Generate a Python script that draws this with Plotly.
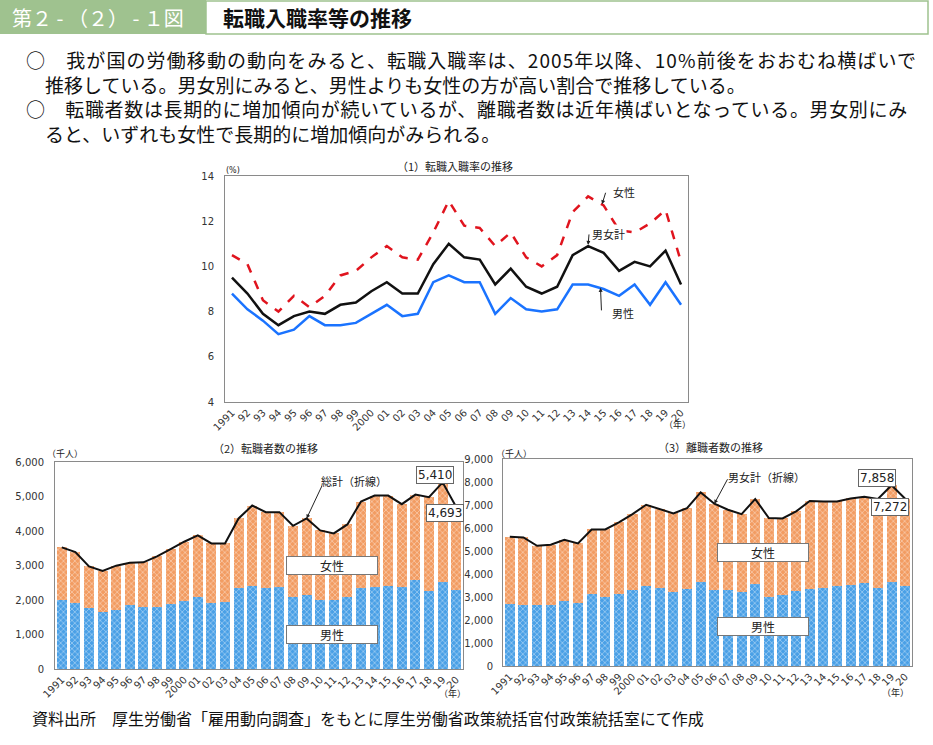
import plotly.graph_objects as go

W, H = 933, 745

years = ["1991", "92", "93", "94", "95", "96", "97", "98", "99", "2000",
         "01", "02", "03", "04", "05", "06", "07", "08", "09", "10",
         "11", "12", "13", "14", "15", "16", "17", "18", "19", "20"]

# (1) 転職入職率 (%)
rate_total = [9.5, 8.8, 7.9, 7.4, 7.8, 8.0, 7.9, 8.3, 8.4, 8.9, 9.3, 8.8, 8.8, 10.1, 11.0,
              10.4, 10.3, 9.2, 9.9, 9.1, 8.8, 9.1, 10.5, 10.9, 10.6, 9.8, 10.2, 10.0, 10.7, 9.2]
rate_male = [8.8, 8.1, 7.6, 7.0, 7.2, 7.8, 7.4, 7.4, 7.5, 7.9, 8.3, 7.8, 7.9, 9.3, 9.6,
             9.3, 9.3, 7.9, 8.6, 8.1, 8.0, 8.1, 9.2, 9.2, 9.0, 8.7, 9.2, 8.3, 9.3, 8.3]
rate_female = [10.5, 10.1, 8.5, 8.0, 8.7, 8.2, 8.7, 9.6, 9.8, 10.4, 10.9, 10.4, 10.3, 11.5, 12.9,
               11.8, 11.7, 10.9, 11.5, 10.4, 10.0, 10.5, 12.4, 13.1, 12.7, 11.6, 11.5, 11.9, 12.5, 10.2]

# (2) 転職者数 (千人)
tr_total = [3525, 3390, 2976, 2842, 2995, 3082, 3092, 3265, 3477, 3689, 3872, 3641, 3641, 4363, 4738,
            4546, 4546, 4151, 4363, 4016, 3930, 4190, 4854, 5027, 5027, 4777, 5056, 4980, 5410, 4693]
tr_male = [2013, 1926, 1763, 1638, 1724, 1869, 1811, 1811, 1898, 1984, 2100, 1926, 1955, 2341, 2418,
           2350, 2370, 2090, 2148, 2004, 2013, 2090, 2350, 2389, 2418, 2370, 2572, 2273, 2533, 2293]
tr_female = [1512, 1464, 1213, 1204, 1271, 1213, 1281, 1454, 1579, 1705, 1772, 1715, 1686, 2022, 2320,
             2196, 2176, 2061, 2215, 2012, 1917, 2100, 2504, 2638, 2609, 2407, 2484, 2707, 2877, 2400]

# (3) 離職者数 (千人)
sep_total = [5617, 5588, 5226, 5269, 5487, 5327, 5937, 5937, 6242, 6605, 7011, 6837, 6634, 6866, 7548,
             7054, 6793, 6605, 7258, 6430, 6416, 6721, 7171, 7157, 7157, 7287, 7359, 7265, 7858, 7272]
sep_male = [2713, 2670, 2641, 2641, 2815, 2757, 3120, 2989, 3120, 3324, 3484, 3382, 3237, 3338, 3672,
            3324, 3294, 3208, 3585, 2989, 3106, 3251, 3367, 3382, 3484, 3528, 3600, 3382, 3643, 3498]
sep_female = [2904, 2918, 2585, 2628, 2672, 2570, 2817, 2948, 3122, 3281, 3527, 3455, 3397, 3528, 3876,
              3730, 3499, 3397, 3673, 3441, 3310, 3470, 3804, 3775, 3673, 3759, 3759, 3883, 4215, 3774]

idx = list(range(len(years)))

JP = "Noto Sans CJK JP"
NUM = "DejaVu Sans"
GREEN = "#9fc28f"
ORANGE = "#f29c62"
BLUE = "#4aa0e6"


def px(x):
    return x / W


def py(y):
    return 1 - y / H


def pat():
    return dict(shape="x", fgcolor="white", fillmode="overlay", size=4, solidity=0.33)


fig = go.Figure()

# chart 1 lines
fig.add_trace(go.Scatter(x=idx, y=rate_female, mode="lines", xaxis="x", yaxis="y",
                         line=dict(color="#e0141e", width=2.5, dash="dash"), name="女性"))
fig.add_trace(go.Scatter(x=idx, y=rate_total, mode="lines", xaxis="x", yaxis="y",
                         line=dict(color="#111111", width=2.5), name="男女計"))
fig.add_trace(go.Scatter(x=idx, y=rate_male, mode="lines", xaxis="x", yaxis="y",
                         line=dict(color="#1a73ff", width=2.5), name="男性"))

# chart 2 bars + line
fig.add_trace(go.Bar(x=idx, y=tr_male, xaxis="x2", yaxis="y2", marker=dict(color=BLUE, pattern=pat(), line=dict(width=0))))
fig.add_trace(go.Bar(x=idx, y=tr_female, xaxis="x2", yaxis="y2", marker=dict(color=ORANGE, pattern=pat(), line=dict(width=0))))
fig.add_trace(go.Scatter(x=idx, y=tr_total, mode="lines", xaxis="x2", yaxis="y2",
                         line=dict(color="#111111", width=2)))

# chart 3 bars + line
fig.add_trace(go.Bar(x=idx, y=sep_male, xaxis="x3", yaxis="y3", marker=dict(color=BLUE, pattern=pat(), line=dict(width=0))))
fig.add_trace(go.Bar(x=idx, y=sep_female, xaxis="x3", yaxis="y3", marker=dict(color=ORANGE, pattern=pat(), line=dict(width=0))))
fig.add_trace(go.Scatter(x=idx, y=sep_total, mode="lines", xaxis="x3", yaxis="y3",
                         line=dict(color="#111111", width=2)))

axline = dict(showline=True, linecolor="#8a8a8a", linewidth=1, mirror=True, showgrid=False,
              zeroline=False, automargin=False)
xcommon = dict(tickmode="array", tickvals=idx, ticktext=years, tickangle=-45,
               tickfont=dict(family=NUM, size=10, color="#333"), ticks="", **axline)

fig.update_layout(
    width=W, height=H, margin=dict(l=0, r=0, t=0, b=0, autoexpand=False),
    paper_bgcolor="white", plot_bgcolor="white", showlegend=False,
    barmode="stack", bargap=0.26,
    xaxis=dict(domain=[px(225), px(688)], anchor="y", range=[-0.45, 29.45], **xcommon),
    yaxis=dict(domain=[py(402), py(176)], anchor="x", range=[4, 14], dtick=2,
               tickfont=dict(family=NUM, size=10, color="#333"), ticklabelstandoff=8, ticks="", **axline),
    xaxis2=dict(domain=[px(55), px(463)], anchor="y2", range=[-0.5, 29.5], **xcommon),
    yaxis2=dict(domain=[py(669), py(462)], anchor="x2", range=[0, 6000], dtick=1000, tickformat=",",
                tickfont=dict(family=NUM, size=10, color="#333"), ticklabelstandoff=8, ticks="", **axline),
    xaxis3=dict(domain=[px(503), px(912)], anchor="y3", range=[-0.5, 29.5], **xcommon),
    yaxis3=dict(domain=[py(666), py(459)], anchor="x3", range=[0, 9000], dtick=1000, tickformat=",",
                tickfont=dict(family=NUM, size=10, color="#333"), ticklabelstandoff=7, ticks="", **axline),
)

shapes = [
    dict(type="rect", xref="paper", yref="paper", x0=px(0), x1=px(206), y0=py(34), y1=py(0),
         fillcolor=GREEN, line=dict(width=0), layer="below"),
    dict(type="rect", xref="paper", yref="paper", x0=px(206), x1=px(928), y0=py(34), y1=py(1),
         fillcolor="white", line=dict(color=GREEN, width=1.5), layer="below"),
]
fig.update_layout(shapes=shapes)

ann = []


def text(x, y, s, size=11, color="#222", xanchor="center", family=JP, **kw):
    ann.append(dict(xref="paper", yref="paper", x=px(x), y=py(y), text=s, showarrow=False,
                    xanchor=xanchor, yanchor="middle", font=dict(family=family, size=size, color=color), **kw))


# header
text(10, 17, "第２ - （２） - １図", size=20, color="white", xanchor="left")
text(221, 17, "<b>転職入職率等の推移</b>", size=21, color="#111", xanchor="left")

# body text (one block, hanging indent with ideographic spaces)
text(24, 97,
     "<span style='letter-spacing:1.1px'>○　我が国の労働移動の動向をみると、転職入職率は、2005年以降、10%前後をおおむね横ばいで</span><br>"
     "　推移している。男女別にみると、男性よりも女性の方が高い割合で推移している。<br>"
     "<span style='letter-spacing:0.65px'>○　転職者数は長期的に増加傾向が続いているが、離職者数は近年横ばいとなっている。男女別にみ</span><br>"
     "　ると、いずれも女性で長期的に増加傾向がみられる。",
     size=19, xanchor="left", align="left", color="#111")

# footer
text(30, 718, "資料出所　厚生労働省「雇用動向調査」をもとに厚生労働省政策統括官付政策統括室にて作成", size=16, xanchor="left", color="#111")

# chart titles & units
text(455, 166, "（1）転職入職率の推移", size=11)
text(265, 448, "（2）転職者数の推移", size=11)
text(710, 447, "（3）離職者数の推移", size=11)
text(233, 171, "(%)", size=8, family=NUM)
text(65, 453, "（千人）", size=9)
text(514, 453, "（千人）", size=9)
text(677, 425, "（年）", size=9)
text(452, 693, "（年）", size=9)
text(895, 692, "（年）", size=9)

# legend boxes in bar charts
for cx, cy, s in [(332, 565, "女性"), (332, 634, "男性"), (763, 552, "女性"), (763, 626, "男性")]:
    ann.append(dict(xref="paper", yref="paper", x=px(cx), y=py(cy), text=s, showarrow=False,
                    xanchor="center", yanchor="middle", width=88, height=15, bgcolor="white",
                    bordercolor="#777", borderwidth=1, font=dict(family=JP, size=12, color="#222")))


def arrow(xr, yr, x, y, ax, ay):
    ann.append(dict(xref=xr, yref=yr, x=x, y=y, ax=ax, ay=ay, axref="pixel", ayref="pixel", text="",
                    showarrow=True, arrowhead=2, arrowsize=0.8, arrowwidth=1, arrowcolor="#222"))


def label(xr, yr, x, y, s, xs, ys, box=False, size=11, family=JP, bg=None):
    d = dict(xref=xr, yref=yr, x=x, y=y, text=s, showarrow=False, xshift=xs, yshift=ys,
             xanchor="center", yanchor="middle", font=dict(family=family, size=size, color="#222"))
    if box:
        d.update(bgcolor="white", bordercolor="#666", borderwidth=1, borderpad=1)
    if bg:
        d.update(bgcolor=bg)
    ann.append(d)


# chart 1 labels
arrow("x", "y", 23.9, 12.75, 4, -13)
label("x", "y", 23.9, 12.75, "女性", 22, 12, bg="white")
arrow("x", "y", 23, 10.95, 1, -12)
label("x", "y", 23, 10.95, "男女計", 20, 11, bg="white")
arrow("x", "y", 23.8, 9.05, 1, 24)
label("x", "y", 23.8, 9.05, "男性", 22, -25, bg="white")

# chart 2 labels
arrow("x2", "y2", 18, tr_total[18], 16, -34)
label("x2", "y2", 18, tr_total[18], "総計（折線）", 47, 37, size=11)
label("x2", "y2", 28, tr_total[28], "{:,}".format(tr_total[28]), -8, 7, box=True, size=12, family=NUM)
label("x2", "y2", 29, tr_total[29], "{:,}".format(tr_total[29]), -11, -6, box=True, size=12, family=NUM)

# chart 3 labels
arrow("x3", "y3", 15, sep_total[15], 14, -26)
label("x3", "y3", 15, sep_total[15], "男女計（折線）", 52, 27, size=11)
label("x3", "y3", 28, sep_total[28], "{:,}".format(sep_total[28]), -15, 7, box=True, size=12, family=NUM)
label("x3", "y3", 29, sep_total[29], "{:,}".format(sep_total[29]), -15, -8, box=True, size=12, family=NUM)

fig.update_layout(annotations=ann)
fig.write_html("out.html", config={"displayModeBar": False},
               post_script="document.body.style.margin='0';document.body.style.overflow='hidden';")
